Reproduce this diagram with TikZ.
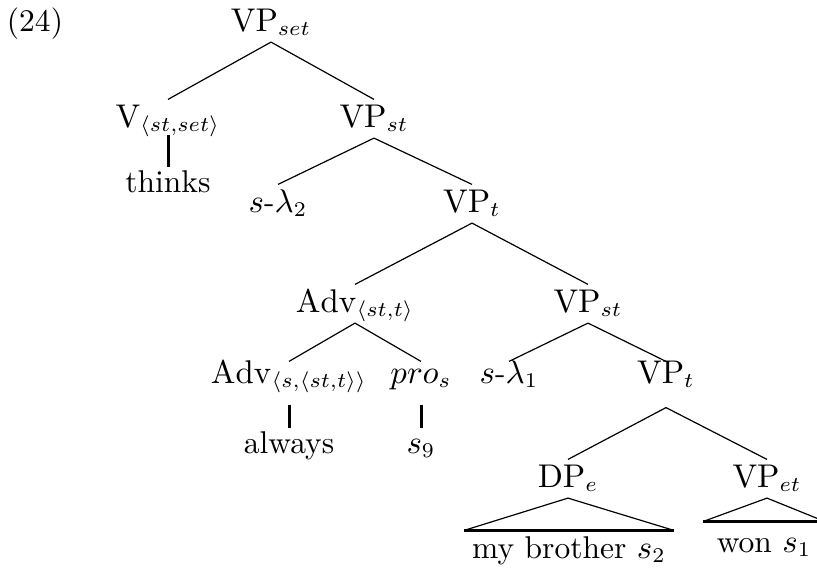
\documentclass[tikz,border=0pt]{standalone}
\begin{document}
\begin{tikzpicture}[x=0.3333pt,y=-0.3333pt,
  lbl/.style={anchor=base,inner xsep=1pt,inner ysep=2pt,text height=7pt,text depth=1.5pt,
    font=\fontsize{10.5pt}{13pt}\selectfont},
  low/.style={lbl,text height=5pt,text depth=6pt},
  leaf/.style={lbl,inner xsep=2.5pt},
  unary/.style={line width=1pt,shorten <=-1pt,shorten >=-1pt}]
 \useasboundingbox (0,0) rectangle (817,569);
 % labels, row by row
 \node[lbl] (ex) at (35,31) {(24)};
 \node[lbl] (vpset) at (271,31) {$\mathrm{VP}_{set}$};
 \node[lbl] (v) at (168,127) {$\mathrm{V}_{\langle st,set\rangle}$};
 \node[lbl] (vpst) at (374,127) {$\mathrm{VP}_{st}$};
 \node[lbl] (thinks) at (168,192) {thinks};
 \node[lbl] (slamb) at (278,212) {$s$-$\lambda_2$};
 \node[lbl] (vpt) at (472,212) {$\mathrm{VP}_t$};
 \node[lbl] (adv) at (355,312) {$\mathrm{Adv}_{\langle st,t\rangle}$};
 \node[lbl] (vpstb) at (588,312) {$\mathrm{VP}_{st}$};
 \node[low] (advs) at (289,383) {$\mathrm{Adv}_{\langle s,\langle st,t\rangle\rangle}$};
 \node[low] (pro) at (421,383) {$pro_s$};
 \node[low] (slama) at (509,383) {$s$-$\lambda_1$};
 \node[low] (vptb) at (666,383) {$\mathrm{VP}_t$};
 \node[lbl] (always) at (289,453) {always};
 \node[lbl] (snine) at (421,453) {$s_9$};
 \node[lbl] (dp) at (568,487) {$\mathrm{DP}_e$};
 \node[lbl] (vpet) at (767,487) {$\mathrm{VP}_{et}$};
 \node[leaf] (brother) at (569,558) {my brother $s_2$};
 \node[leaf,text height=8pt,minimum width=40pt] (won) at (764,552) {won $s_1$};
 % branches
 \draw (vpset.south)--(v.north); \draw (vpset.south)--(vpst.north);
 \draw (vpst.south)--(slamb.north); \draw (vpst.south)--(vpt.north);
 \draw (vpt.south)--(adv.north); \draw (vpt.south)--(vpstb.north);
 \draw (adv.south)--(advs.north); \draw (adv.south)--(pro.north);
 \draw (vpstb.south)--(slama.north); \draw (vpstb.south)--(vptb.north);
 \draw (vptb.south)--(dp.north); \draw (vptb.south)--(vpet.north);
 \draw[unary] (v.south)--(thinks.north);
 \draw[unary] (advs.south)--(always.north);
 \draw[unary] (pro.south)--(snine.north);
 % triangles
 \draw (brother.north west)--(dp.south)--(brother.north east);
 \draw[line width=1pt] (brother.north west)--(brother.north east);
 \draw (won.north west)--(vpet.south)--(won.north east);
 \draw[line width=1pt] (won.north west)--(won.north east);
\end{tikzpicture}
\end{document}
